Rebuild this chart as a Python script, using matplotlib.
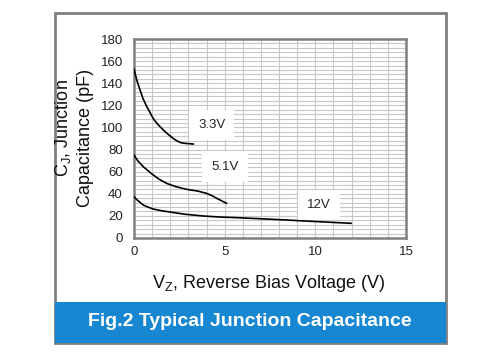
import matplotlib
matplotlib.use("Agg")
import matplotlib.pyplot as plt
from matplotlib.patches import Rectangle
from matplotlib.ticker import MultipleLocator

plt.rcParams['font.family'] = ['Liberation Sans', 'DejaVu Sans']
plt.rcParams['mathtext.fontset'] = 'custom'
plt.rcParams['mathtext.rm'] = 'Liberation Sans'
plt.rcParams['mathtext.it'] = 'Liberation Sans'

# Data
v_33 = [0.0, 0.15, 0.33, 0.5, 0.7, 0.9, 1.06, 1.3, 1.62, 1.9, 2.17, 2.4, 2.63, 2.9, 3.27]
c_33 = [153, 143, 134, 126, 119, 113, 108, 103, 97.6, 93.5, 90, 87.5, 86, 85.5, 85]

v_51 = [0.0, 0.2, 0.51, 0.8, 1.06, 1.4, 1.8, 2.3, 2.9, 3.5, 4.0, 4.3, 4.56, 4.85, 5.1]
c_51 = [75, 70, 64.5, 60.5, 57, 53, 49.4, 46.5, 44, 42.5, 40.4, 38.3, 35.9, 33.5, 31.4]

v_12 = [0.0, 0.2, 0.51, 0.8, 1.06, 1.5, 1.99, 2.8, 3.82, 4.7, 5.66, 7.0, 8.4, 9.3, 10.26, 11.1, 11.97]
c_12 = [37.3, 34, 29.8, 27.8, 26.2, 24.7, 23.5, 21.5, 19.9, 19.0, 18.4, 17.4, 16.3, 15.5, 14.7, 14.0, 13.3]

labels = ["3.3V", "5.1V", "12V"]
label_pos = [(4.28, 102), (5.0, 64.5), (10.2, 30)]

x_ticks = [0, 5, 10, 15]
y_ticks = [0, 20, 40, 60, 80, 100, 120, 140, 160, 180]

W, H = 500, 358
fig = plt.figure(figsize=(5.0, 3.58), dpi=100)

# outer frame
fig.patches.append(Rectangle((55 / W, 1 - 343 / H), (446 - 55) / W, (343 - 13) / H,
                             transform=fig.transFigure, facecolor='white',
                             edgecolor='#808080', linewidth=2.0, zorder=-5))
# banner
fig.patches.append(Rectangle((55 / W, 1 - 343 / H), (446 - 55) / W, (343 - 302) / H,
                             transform=fig.transFigure, facecolor='#1787d2',
                             edgecolor='none', zorder=1))
fig.text(250 / W, 1 - 322 / H, "Fig.2 Typical Junction Capacitance", color='white',
         fontsize=14, fontweight='bold', ha='center', va='center')

ax = fig.add_axes([134 / W, 1 - 238 / H, (406 - 134) / W, (238 - 39) / H])
ax.set_zorder(2)
ax.set_xlim(0, 15)
ax.set_ylim(0, 180)
ax.set_xticks(x_ticks)
ax.set_yticks(y_ticks)
ax.xaxis.set_minor_locator(MultipleLocator(1))
ax.yaxis.set_minor_locator(MultipleLocator(4))
ax.grid(True, which='both', color='#c8c8c8', linewidth=0.8)
ax.set_axisbelow(True)
ax.tick_params(which='both', length=0, labelsize=9.5, colors='#222222')
ax.tick_params(axis='x', pad=6)
ax.tick_params(axis='y', pad=8)
for s in ax.spines.values():
    s.set_color('#808080')
    s.set_linewidth(1.8)

for v, c in [(v_33, c_33), (v_51, c_51), (v_12, c_12)]:
    ax.plot(v, c, color='black', linewidth=1.2, zorder=3)

for lab, (x, y) in zip(labels, label_pos):
    ax.text(x, y, lab, fontsize=9.5, ha='center', va='center', color='#222222', zorder=4,
            bbox=dict(boxstyle='square,pad=0.7', facecolor='white', edgecolor='none'))

fig.text(269 / W, 1 - 283 / H, r"V$_\mathregular{Z}$, Reverse Bias Voltage (V)",
         fontsize=13, ha='center', va='center', color='#111111')
fig.text(63 / W, 1 - 128 / H, r"C$_\mathregular{J}$, Junction", rotation=90,
         fontsize=13, ha='center', va='center', color='#111111')
fig.text(86 / W, 1 - 138 / H, "Capacitance (pF)", rotation=90,
         fontsize=13, ha='center', va='center', color='#111111')

fig.savefig("out.png", dpi=100)
